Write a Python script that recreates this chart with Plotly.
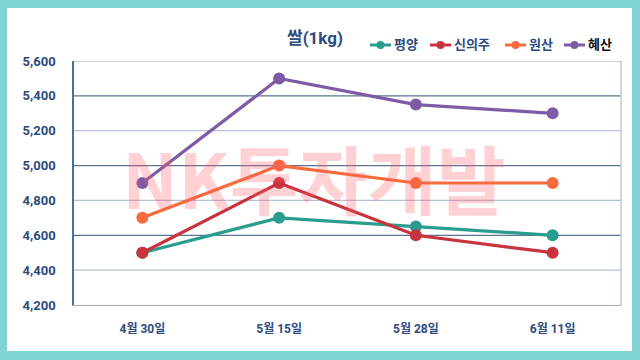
import plotly.graph_objects as go

categories = ["4월 30일", "5월 15일", "5월 28일", "6월 11일"]
pyongyang = [4500, 4700, 4650, 4600]
sinuiju = [4500, 4900, 4600, 4500]
wonsan = [4700, 5000, 4900, 4900]
hyesan = [4900, 5500, 5350, 5300]
series_names = ["평양", "신의주", "원산", "혜산"]
y_ticks = [4200, 4400, 4600, 4800, 5000, 5200, 5400, 5600]

colors = ["#2a9d8f", "#c8333d", "#f76b3c", "#7d5ba6"]
legend_text_colors = ["#2d4b7d", "#2d4b7d", "#2d4b7d", "#111111"]
navy = "#2d4b7d"
FONT = "Roboto, 'Noto Sans CJK KR', sans-serif"

fig = go.Figure()
for name, vals, col in zip(series_names, [pyongyang, sinuiju, wonsan, hyesan], colors):
    fig.add_trace(go.Scatter(
        x=categories, y=vals, name=name, mode="lines+markers",
        line=dict(color=col, width=3.2),
        marker=dict(color=col, size=12),
        showlegend=False,
    ))

L, R, T, B = 74, 19, 61, 55
W, H = 640, 360
pw, ph = W - L - R, H - T - B

def px_x(p):
    return (p - L) / pw

def px_y(p):
    return (H - B - p) / ph

shapes = [
    dict(type="rect", xref="paper", yref="paper",
         x0=px_x(7), x1=px_x(632), y0=px_y(351), y1=px_y(8),
         fillcolor="white", line=dict(width=0), layer="below"),
]
for v in y_ticks[1:]:
    col = "#5d7394" if (v // 200) % 2 == 1 else "#b4c0d4"
    shapes.append(dict(type="line", xref="paper", yref="y", x0=0, x1=1, y0=v, y1=v,
                       line=dict(color=col, width=1.3), layer="below"))
shapes.append(dict(type="line", xref="paper", yref="paper", x0=1, x1=1, y0=0, y1=1,
                   line=dict(color="#b4c0d4", width=1.3), layer="below"))

annotations = [dict(text="<b>NK투자개발</b>", xref="paper", yref="paper",
                    x=px_x(314), y=px_y(176), showarrow=False,
                    font=dict(size=75, color="rgba(255,90,100,0.28)",
                              family="'Noto Sans CJK KR', sans-serif"))]

# manual legend (symbol start px)
legend_sym_x = [370, 430, 505, 564]
legend_y = 45
for name, sx, col, tcol in zip(series_names, legend_sym_x, colors, legend_text_colors):
    shapes.append(dict(type="line", xref="paper", yref="paper",
                       x0=px_x(sx), x1=px_x(sx + 21), y0=px_y(legend_y), y1=px_y(legend_y),
                       line=dict(color=col, width=3)))
    cx = sx + 10.5
    shapes.append(dict(type="circle", xref="paper", yref="paper",
                       x0=px_x(cx - 4), x1=px_x(cx + 4), y0=px_y(legend_y + 4), y1=px_y(legend_y - 4),
                       fillcolor=col, line=dict(width=0)))
    annotations.append(dict(text=f"<b>{name}</b>", xref="paper", yref="paper",
                            x=px_x(sx + 22), y=px_y(legend_y), xanchor="left", yanchor="middle",
                            showarrow=False,
                            font=dict(size=13, color=tcol, family=FONT)))

fig.update_layout(
    width=W, height=H,
    margin=dict(l=L, r=R, t=T, b=B, autoexpand=False),
    paper_bgcolor="#80d4d6",
    plot_bgcolor="white",
    font=dict(family=FONT, color=navy),
    shapes=shapes,
    annotations=annotations,
    title=dict(text="<b>쌀(1kg)</b>", x=315 / W, xanchor="center",
               y=1 - 38 / H, yanchor="middle",
               font=dict(size=17, color=navy, family=FONT)),
    showlegend=False,
)
fig.update_xaxes(range=[-0.5, 3.5], showgrid=False, showline=True, linecolor="#a3abb6",
                 linewidth=1.3, ticks="", ticklabelstandoff=12,
                 tickfont=dict(size=12, color=navy, family=FONT, weight="bold"))
fig.update_yaxes(range=[4200, 5600], tickvals=y_ticks, ticktext=[f"{v:,}" for v in y_ticks],
                 showgrid=False, zeroline=False, showline=True, linecolor="#4a6e9e",
                 linewidth=1.5, ticks="", ticklabelstandoff=14,
                 tickfont=dict(size=13, color=navy, family=FONT, weight="bold"))

fig.write_html("out.html", config={"displayModeBar": False},
               post_script="document.body.style.margin='0px';")
